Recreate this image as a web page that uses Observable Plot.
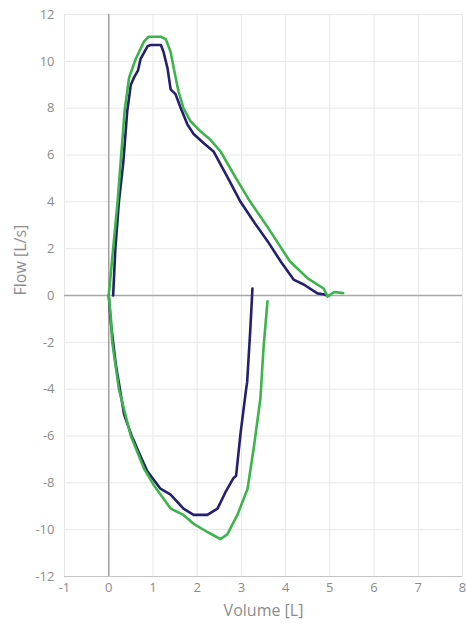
<!DOCTYPE html>
<html>
<head>
<meta charset="utf-8">
<script src="https://cdn.jsdelivr.net/npm/d3@7"></script>
<script src="https://cdn.jsdelivr.net/npm/@observablehq/plot@0.6"></script>
<style>
  html, body { margin: 0; padding: 0; background: #fff; }
</style>
</head>
<body>
<div id="chart"></div>
<script>
// Blue trial – expiration (upper) and inspiration (lower)
const blueExpVol  = [0.1, 0.15, 0.23, 0.33, 0.42, 0.5, 0.57, 0.66, 0.72, 0.88, 0.95, 1.18, 1.24, 1.33, 1.4, 1.51, 1.63, 1.78, 1.92, 2.15, 2.37, 2.7, 2.98, 3.3, 3.6, 3.89, 4.18, 4.41, 4.72, 4.85, 4.95];
const blueExpFlow = [0, 2.0, 4.0, 5.7, 7.9, 9.0, 9.3, 9.6, 10.1, 10.65, 10.7, 10.7, 10.4, 9.7, 8.8, 8.6, 8.0, 7.3, 6.9, 6.5, 6.15, 5.0, 4.0, 3.1, 2.3, 1.45, 0.68, 0.47, 0.09, 0.05, 0];
const blueInsVol  = [0, 0.05, 0.16, 0.35, 0.54, 0.57, 0.68, 0.87, 1.17, 1.4, 1.69, 1.92, 2.23, 2.46, 2.64, 2.82, 2.88, 2.98, 3.1, 3.13, 3.2, 3.25];
const blueInsFlow = [0, -1.2, -2.95, -5.1, -6.1, -6.2, -6.7, -7.5, -8.25, -8.5, -9.1, -9.37, -9.37, -9.1, -8.4, -7.8, -7.7, -5.9, -4.1, -3.7, -1.5, 0.3];

// Green trial – expiration (upper) and inspiration (lower)
const greenExpVol  = [0.0, 0.05, 0.2, 0.36, 0.46, 0.61, 0.8, 0.9, 1.18, 1.29, 1.4, 1.47, 1.58, 1.69, 1.85, 2.08, 2.3, 2.53, 2.85, 3.2, 3.6, 4.1, 4.5, 4.86, 4.95, 5.1, 5.3];
const greenExpFlow = [0, 1.0, 4.0, 7.9, 9.3, 10.1, 10.85, 11.05, 11.05, 10.95, 10.4, 9.7, 8.7, 8.0, 7.44, 7.0, 6.65, 6.15, 5.1, 4.0, 2.9, 1.45, 0.73, 0.3, -0.05, 0.15, 0.1];
const greenInsVol  = [0.0, 0.05, 0.08, 0.23, 0.5, 0.8, 1.02, 1.4, 1.69, 1.92, 2.23, 2.53, 2.68, 2.91, 3.14, 3.28, 3.43, 3.5, 3.59];
const greenInsFlow = [0, -1.0, -2.0, -4.0, -6.0, -7.4, -8.1, -9.1, -9.37, -9.75, -10.1, -10.4, -10.2, -9.37, -8.25, -6.5, -4.4, -2.25, -0.25];

const xTicks = [-1, 0, 1, 2, 3, 4, 5, 6, 7, 8];
const yTicks = [-12, -10, -8, -6, -4, -2, 0, 2, 4, 6, 8, 10, 12];

function rows(vols, flows, series, seg) {
  return vols.map((v, i) => ({vol: v, flow: flows[i], series, seg: series + seg}));
}
const blue = [...rows(blueExpVol, blueExpFlow, "blue", "exp"), ...rows(blueInsVol, blueInsFlow, "blue", "ins")];
const green = [...rows(greenExpVol, greenExpFlow, "green", "exp"), ...rows(greenInsVol, greenInsFlow, "green", "ins")];

const font = "'Open Sans', Lato, sans-serif";
const grey = "#8c8c8c";

const chart = Plot.plot({
  width: 466,
  height: 626,
  marginLeft: 64,
  marginRight: 4,
  marginTop: 14,
  marginBottom: 50,
  style: {fontFamily: font, fontSize: "13px", color: grey, background: "#fff"},
  x: {domain: [-1, 8]},
  y: {domain: [-12, 12]},
  marks: [
    Plot.gridX(xTicks, {stroke: "#e8e8e8", strokeOpacity: 1}),
    Plot.gridY(yTicks, {stroke: "#e8e8e8", strokeOpacity: 1}),
    Plot.ruleY([-12], {stroke: "#c4c4c4", strokeWidth: 1.2}),
    Plot.ruleY([0], {stroke: "#a8a8a8", strokeWidth: 1.5}),
    Plot.ruleX([0], {stroke: "#a0a0a0", strokeWidth: 1.5}),
    Plot.axisX(xTicks, {tickSize: 0, tickPadding: 6, label: null, fill: grey, fontSize: 13, tickFormat: d => String(d)}),
    Plot.axisY(yTicks, {tickSize: 0, tickPadding: 10, label: null, fill: grey, fontSize: 13, tickFormat: d => String(d)}),
    Plot.line(blue, {x: "vol", y: "flow", z: "seg", stroke: "#24206f", strokeWidth: 2.6, curve: "linear"}),
    Plot.line(green, {x: "vol", y: "flow", z: "seg", stroke: "#3db44b", strokeWidth: 2.6, curve: "linear"}),
    Plot.text(["Volume [L]"], {frameAnchor: "bottom", dy: 39, text: d => d, fontSize: 16, fill: grey}),
    Plot.text(["Flow [L/s]"], {frameAnchor: "left", dx: -44, rotate: -90, text: d => d, fontSize: 16, fill: grey})
  ]
});
document.getElementById("chart").appendChild(chart);
</script>
</body>
</html>
